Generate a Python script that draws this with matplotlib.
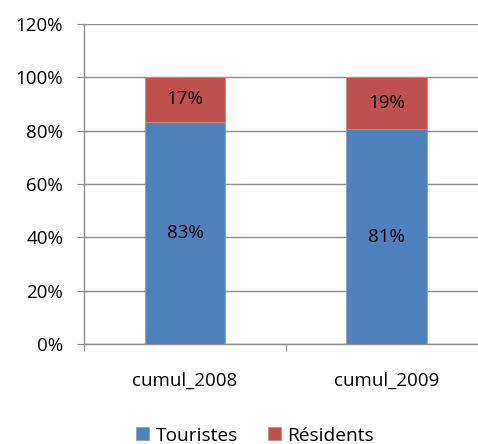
import matplotlib
matplotlib.use("Agg")
import matplotlib.pyplot as plt
import numpy as np

categories = ["cumul_2008", "cumul_2009"]
touristes = [83.4, 80.6]
residents = [16.6, 19.4]
series_names = ["Touristes", "Résidents"]
yticks = [0, 20, 40, 60, 80, 100, 120]

plt.rcParams['font.family'] = ['Open Sans', 'DejaVu Sans']
FS = 13.5

fig = plt.figure(figsize=(4.78, 4.44), dpi=100)
ax = fig.add_axes([84/478, 100/444, 403.5/478, 320/444])

x = np.arange(len(categories))
b1 = ax.bar(x, touristes, width=0.4, color="#4F81BD", edgecolor="#7FA3D3", linewidth=0.6, label=series_names[0], zorder=3)
b2 = ax.bar(x, residents, width=0.4, bottom=touristes, color="#C0504D", edgecolor="#D58785", linewidth=0.6, label=series_names[1], zorder=3)

for i in range(len(categories)):
    ax.text(x[i], touristes[i] / 2, f"{round(touristes[i])}%", ha="center", va="center", fontsize=FS, color="black", zorder=4)
    ax.text(x[i], touristes[i] + residents[i] / 2, f"{round(residents[i])}%", ha="center", va="center", fontsize=FS, color="black", zorder=4)

ax.set_xlim(-0.5, 1.5)
ax.set_ylim(0, 120)
ax.set_yticks(yticks)
ax.set_yticklabels([f"{v}%" for v in yticks], fontsize=FS)
ax.yaxis.grid(True, color="#8C8C8C", linewidth=1.0, zorder=0)
ax.set_axisbelow(True)

ax.set_xticks([-0.5, 0.5, 1.5])
ax.set_xticklabels(["", "", ""])
ax.set_xticks(x, minor=True)
ax.set_xticklabels(categories, minor=True, fontsize=FS)
ax.tick_params(axis="x", which="minor", length=0, pad=20)
ax.tick_params(axis="x", which="major", length=5, color="#8C8C8C", direction="out")
ax.tick_params(axis="y", length=5, color="#8C8C8C", direction="out", pad=10)

for s in ["top", "right"]:
    ax.spines[s].set_visible(False)
for s in ["left", "bottom"]:
    ax.spines[s].set_color("#8C8C8C")
    ax.spines[s].set_linewidth(1.0)

leg = fig.legend(handles=[b1, b2], labels=series_names, loc="lower center",
                 bbox_to_anchor=(0.534, -0.04), ncol=2, frameon=False, fontsize=13.8,
                 handlelength=0.65, handleheight=0.65, handletextpad=0.35, columnspacing=1.6)

fig.savefig("out.png", dpi=100)
